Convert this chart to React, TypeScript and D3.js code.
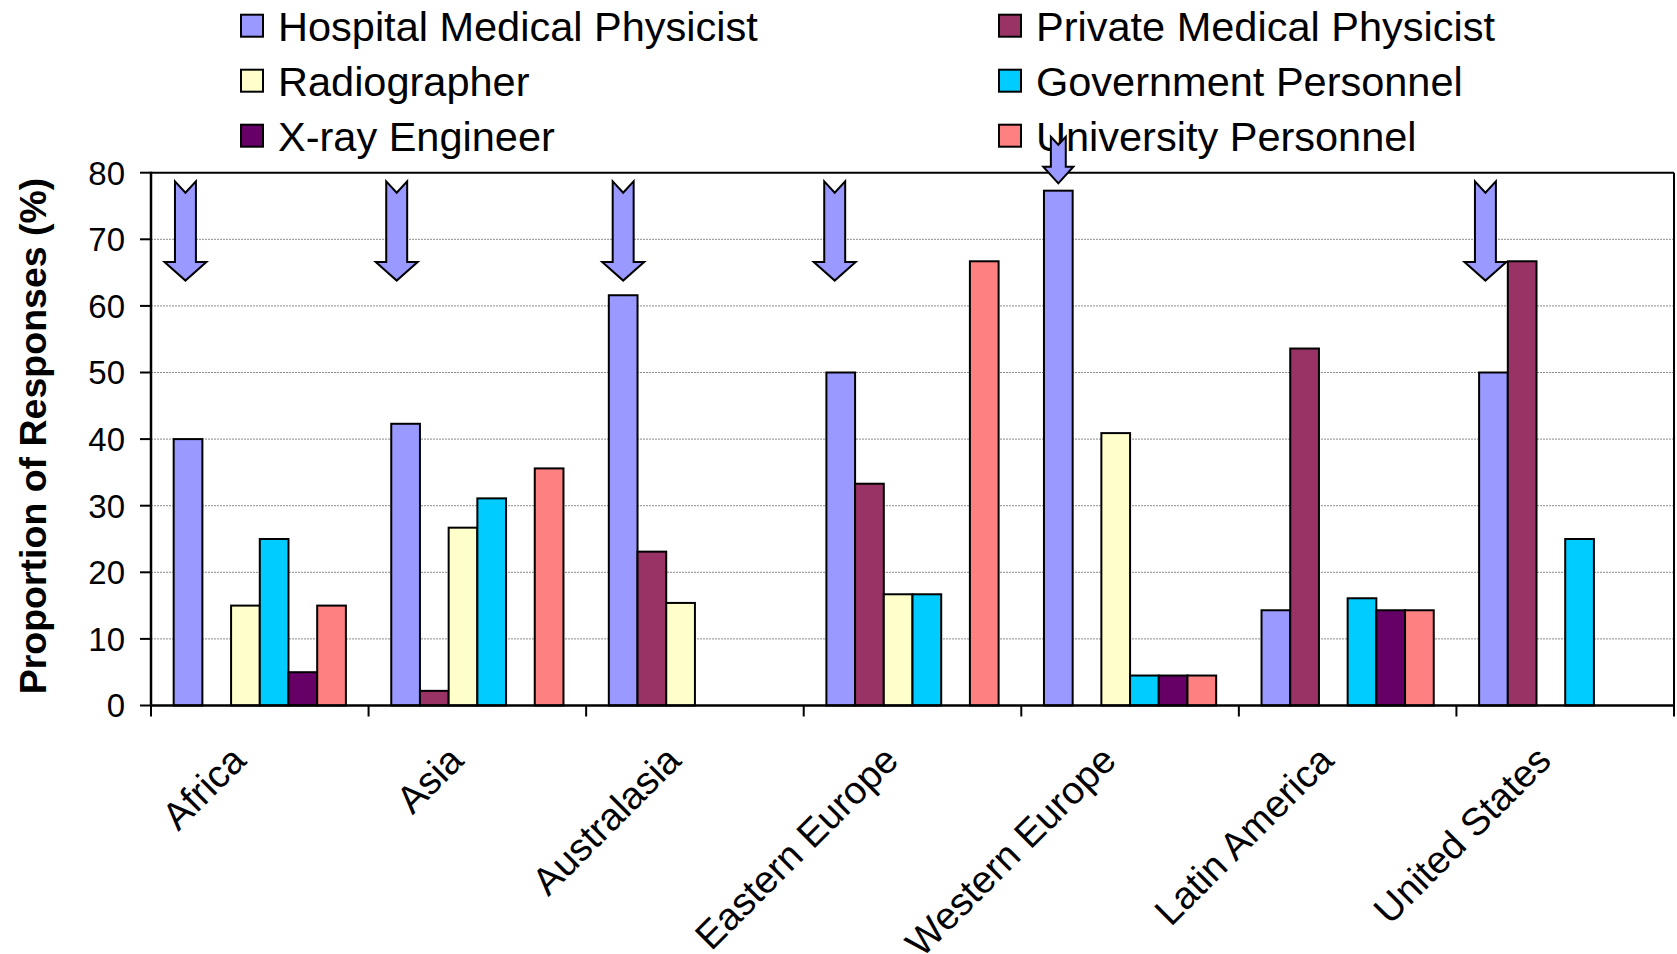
import React from "react";
import * as d3 from "d3";

const categories = ["Africa", "Asia", "Australasia", "Eastern Europe", "Western Europe", "Latin America", "United States"];
const seriesNames = ["Hospital Medical Physicist", "Private Medical Physicist", "Radiographer", "Government Personnel", "X-ray Engineer", "University Personnel"];
const seriesColors = ["#9999FF", "#993366", "#FFFFCC", "#00CCFF", "#660066", "#FF8080"];
const hospital = [40, 42.3, 61.6, 50, 77.3, 14.3, 50];
const privateMP = [0, 2.2, 23.1, 33.3, 0, 53.6, 66.7];
const radiographer = [15, 26.7, 15.4, 16.7, 40.9, 0, 0];
const government = [25, 31.1, 0, 16.7, 4.5, 16.1, 25];
const xray = [5, 0, 0, 0, 4.5, 14.3, 0];
const university = [15, 35.6, 0, 66.7, 4.5, 14.3, 0];
const seriesValues = [hospital, privateMP, radiographer, government, xray, university];
const yTicks = [0, 10, 20, 30, 40, 50, 60, 70, 80];
// legend order: column-major as in the picture
const legendOrder = [0, 2, 4, 1, 3, 5];
// arrow annotations (pointing at Hospital bars): value levels in data units
const arrows = [
  { cat: "Africa", dx: -0.09, top: 78.7, notch: 77.0, head: 66.6, tip: 63.8, shaft: 0.73, headW: 1.46 },
  { cat: "Asia", dx: -0.31, top: 78.7, notch: 77.0, head: 66.6, tip: 63.8, shaft: 0.73, headW: 1.46 },
  { cat: "Australasia", dx: 0, top: 78.7, notch: 77.0, head: 66.6, tip: 63.8, shaft: 0.73, headW: 1.46 },
  { cat: "Eastern Europe", dx: -0.21, top: 78.7, notch: 77.0, head: 66.6, tip: 63.8, shaft: 0.73, headW: 1.46 },
  { cat: "Western Europe", dx: 0, top: 85.4, notch: 84.2, head: 80.9, tip: 78.4, shaft: 0.52, headW: 1.05 },
  { cat: "United States", dx: -0.28, top: 78.7, notch: 77.0, head: 66.6, tip: 63.8, shaft: 0.73, headW: 1.46 },
];

const W = 1677, H = 954;
const left = 151, right = 1674, top = 172.7, bottom = 705.5;
const FONT = "Arial, 'Liberation Sans', sans-serif";

export default function App() {
  const x = d3.scaleBand<string>().domain(categories).range([left, right]).paddingInner(0).paddingOuter(0);
  const catW = x.bandwidth();
  const nS = seriesNames.length;
  const gapRatio = 1.58;
  const bw = catW / (nS + gapRatio);
  const inner = d3.scaleBand<number>().domain(d3.range(nS)).range([(catW - nS * bw) / 2, (catW + nS * bw) / 2]);
  const y = d3.scaleLinear().domain([0, 80]).range([bottom, top]);

  const boundaries = d3.range(categories.length + 1).map((i) => left + i * catW);

  const arrowPath = (a: any) => {
    const cx = (x(a.cat) as number) + (inner(0) as number) + bw / 2 + a.dx * bw;
    const s = (a.shaft * bw) / 2;
    const h = (a.headW * bw) / 2;
    const yt = y(a.top), yn = y(a.notch), yh = y(a.head), yp = y(a.tip);
    return `M${cx - s},${yt}L${cx},${yn}L${cx + s},${yt}L${cx + s},${yh}L${cx + h},${yh}L${cx},${yp}L${cx - h},${yh}L${cx - s},${yh}Z`;
  };

  return (
    <svg width={W} height={H} style={{ position: "absolute", left: 0, top: 0, background: "#fff" }} fontFamily={FONT}>
      {/* gridlines */}
      {yTicks.filter((t) => t > 0 && t < 80).map((t) => (
        <line key={t} x1={left} x2={right} y1={y(t)} y2={y(t)} stroke="#8a8a8a" strokeWidth={1} strokeDasharray="2 1" />
      ))}
      {/* plot border */}
      <line x1={left} x2={right} y1={top} y2={top} stroke="#000" strokeWidth={2} />
      <line x1={right} x2={right} y1={top} y2={bottom} stroke="#000" strokeWidth={2} />
      {/* bars */}
      {seriesValues.map((vals, si) =>
        vals.map((v, ci) =>
          v > 0 ? (
            <rect key={`${si}-${ci}`} x={(x(categories[ci]) as number) + (inner(si) as number)} y={y(v)} width={bw} height={y(0) - y(v)}
              fill={seriesColors[si]} stroke="#000" strokeWidth={2} />
          ) : null
        )
      )}
      {/* axes */}
      <line x1={left} x2={left} y1={top - 1} y2={bottom} stroke="#000" strokeWidth={2.5} />
      <line x1={left - 1} x2={right + 1} y1={bottom} y2={bottom} stroke="#000" strokeWidth={2.5} />
      {yTicks.map((t) => (
        <g key={t}>
          <line x1={left - 11} x2={left} y1={y(t)} y2={y(t)} stroke="#000" strokeWidth={2} />
          <text x={125} y={y(t)} dy="0.36em" textAnchor="end" fontSize={33} fill="#000">{t}</text>
        </g>
      ))}
      {boundaries.map((b, i) => (
        <line key={i} x1={b} x2={b} y1={bottom} y2={bottom + 11} stroke="#000" strokeWidth={2} />
      ))}
      {categories.map((c) => {
        const cx = (x(c) as number) + catW / 2 - 12;
        const cy = bottom + 57;
        return (
          <text key={c} x={cx} y={cy} textAnchor="end" fontSize={38.5} fill="#000" transform={`rotate(-45 ${cx} ${cy})`}>{c}</text>
        );
      })}
      {/* y title */}
      <text x={0} y={0} transform={`translate(46 436) rotate(-90)`} textAnchor="middle" fontSize={37.5} fontWeight="bold" fill="#000">Proportion of Responses (%)</text>
      {/* legend */}
      {legendOrder.map((si, k) => {
        const col = Math.floor(k / 3), row = k % 3;
        const sx = col === 0 ? 241 : 999;
        const cy = 25.7 + row * 55;
        return (
          <g key={si}>
            <rect x={sx} y={cy - 11} width={22} height={22} fill={seriesColors[si]} stroke="#000" strokeWidth={2} />
            <text x={sx + 37} y={cy} dy="0.36em" fontSize={41.5} fill="#000">{seriesNames[si]}</text>
          </g>
        );
      })}
      {/* arrows */}
      {arrows.map((a, i) => (
        <path key={i} d={arrowPath(a)} fill="#9999FF" stroke="#000" strokeWidth={2} strokeLinejoin="miter" />
      ))}
    </svg>
  );
}
